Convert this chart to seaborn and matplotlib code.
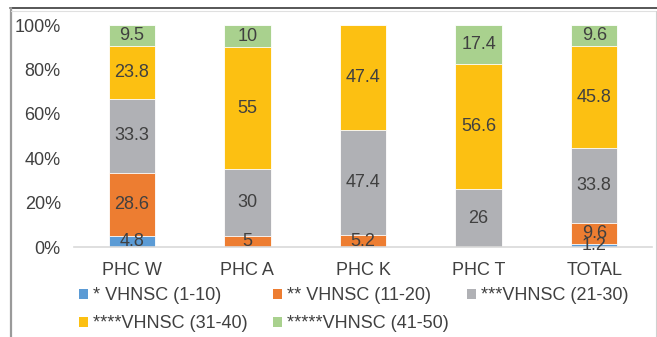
import numpy as np
import matplotlib
matplotlib.use("Agg")
import matplotlib.pyplot as plt
from matplotlib.lines import Line2D
from matplotlib.patches import Patch
import seaborn as sns

# Share of VHNSCs in each score band, per PHC (percent)
categories = ["PHC W", "PHC A", "PHC K", "PHC T", "TOTAL"]
series_names = ["* VHNSC (1-10)", "** VHNSC (11-20)", "***VHNSC (21-30)",
                "****VHNSC (31-40)", "*****VHNSC (41-50)"]
band_1_10 = [4.8, 0, 0, 0, 1.2]
band_11_20 = [28.6, 5, 5.2, 0, 9.6]
band_21_30 = [33.3, 30, 47.4, 26, 33.8]
band_31_40 = [23.8, 55, 47.4, 56.6, 45.8]
band_41_50 = [9.5, 10, 0, 17.4, 9.6]
y_ticks = [0, 20, 40, 60, 80, 100]
y_tick_labels = ["0%", "20%", "40%", "60%", "80%", "100%"]

colors = ["#5B9BD5", "#ED7D31", "#B0B1B5", "#FCC012", "#A9D18E"]
text_color = "#404040"

sns.set_theme(style="white")
plt.rcParams["font.family"] = ["Liberation Sans", "DejaVu Sans"]

layers = np.array([band_1_10, band_11_20, band_21_30, band_31_40, band_41_50], dtype=float)
cum = np.cumsum(layers, axis=0)

fig = plt.figure(figsize=(6.57, 3.37), dpi=100)
ax = fig.add_axes([74 / 657, 90 / 337, 578 / 657, 222 / 337])

# Stack by overlaying cumulative totals, tallest first
for i in reversed(range(len(layers))):
    sns.barplot(x=categories, y=cum[i], color=colors[i], width=0.4,
                edgecolor="white", linewidth=0.6, saturation=1, ax=ax)

# Segment value labels (zero-height segments are skipped)
for i in range(len(layers)):
    for j, v in enumerate(layers[i]):
        if v > 0:
            ax.text(j, cum[i][j] - v / 2, f"{v:g}", ha="center", va="center",
                    fontsize=13, color=text_color)

ax.set_xlim(-0.5, len(categories) - 0.5)
ax.set_ylim(0, 100)
ax.set_yticks(y_ticks)
ax.set_yticklabels(y_tick_labels)
ax.tick_params(axis="y", length=0, pad=9.5, labelsize=13, labelcolor=text_color)
ax.tick_params(axis="x", length=0, pad=10.5, labelsize=13, labelcolor=text_color)
ax.set_xlabel("")
ax.set_ylabel("")
for side in ["top", "right", "left"]:
    ax.spines[side].set_visible(False)
ax.spines["bottom"].set_color("#D9D9D9")
ax.spines["bottom"].set_linewidth(1.2)

# Legend entries laid out in two rows
legend_pos = [(79, 296), (273, 296), (467, 296), (79, 324), (273, 324)]
for name, col, (px, py) in zip(series_names, colors, legend_pos):
    leg = fig.legend(handles=[Patch(facecolor=col, edgecolor="none")], labels=[name],
                     loc="center left", bbox_to_anchor=(px / 657, 1 - py / 337),
                     frameon=False, borderpad=0, borderaxespad=0,
                     handlelength=0.5, handleheight=0.5, handletextpad=0.3,
                     fontsize=13, labelcolor=text_color)

# Chart frame
W, H = 657, 337
fig.add_artist(Line2D([10 / W, 1], [1 - 8 / H, 1 - 8 / H], color="#3a3a3a", lw=1.2))
fig.add_artist(Line2D([10.5 / W, 10.5 / W], [0, 1 - 8 / H], color="#9a9a9a", lw=1.6))
fig.add_artist(Line2D([11 / W, 655.5 / W], [1 - 10.5 / H, 1 - 10.5 / H], color="#E0E0E0", lw=0.8))
fig.add_artist(Line2D([655.5 / W, 655.5 / W], [0, 1 - 10.5 / H], color="#D0D0D0", lw=0.8))

fig.savefig("out.png", dpi=100)
